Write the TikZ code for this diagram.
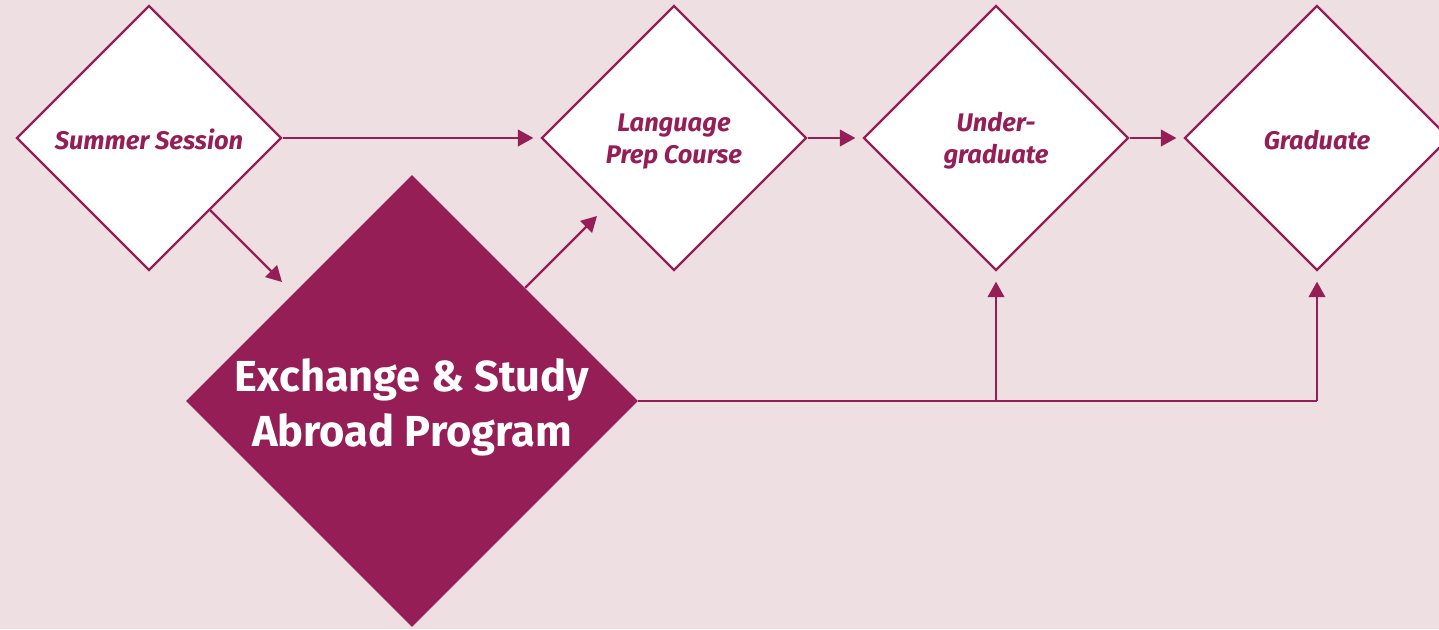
\documentclass[tikz,border=0pt]{standalone}
\usepackage{fontspec}
\setmainfont{Fira Sans}
\usetikzlibrary{shapes.geometric,arrows.meta,positioning,calc}
\definecolor{plum}{RGB}{148,30,85}
\definecolor{blush}{RGB}{238,223,227}
\newcommand{\lowered}[2]{\makebox[0pt]{\raisebox{-#1}[\height][\depth]{\begin{tabular}{@{}c@{}}#2\end{tabular}}}}

\begin{document}
\begin{tikzpicture}[x=0.02cm, y=-0.02cm,
    stage/.style={diamond, draw=plum, line width=0.045cm, fill=white, inner sep=0pt,
        minimum size=5.3cm, text=plum,
        font=\fontsize{14.5}{18}\selectfont\bfseries\itshape},
    program/.style={diamond, fill=plum, inner sep=0pt, minimum size=9.04cm,
        text=white, font=\fontsize{24.7}{31}\selectfont\bfseries},
    link/.style={draw=plum, line width=0.045cm, -{Triangle[length=0.31cm,width=0.33cm]}},
    line/.style={draw=plum, line width=0.045cm}]
    \useasboundingbox (0,0) rectangle (1439,629);
    \fill[blush] (0,0) rectangle (1439,629);
    \clip (0,0) rectangle (1439,629);
    \node[stage] (summer) at (149,138) {\lowered{0.1cm}{Summer Session}};
    \node[stage] (lang) at (674,138) {\lowered{0.06cm}{Language\\Prep Course}};
    \node[stage] (under) at (996,138) {\lowered{0.06cm}{Under-\\graduate}};
    \node[stage] (grad) at (1317,138) {\lowered{0.1cm}{Graduate}};
    \node[program] (exch) at (412,401) {\lowered{0.14cm}{Exchange \& Study\\Abroad Program}};
    \coordinate (s1) at (210,210);
    \coordinate (s2) at (282,282);
    \coordinate (l1) at (597,216);
    \coordinate (j1) at (under.south |- exch.east);
    \coordinate (j2) at (grad.south |- exch.east);
    \draw[link, shorten >=0.14cm] (summer.east) -- (lang.west);
    \draw[link, shorten >=0.14cm] (lang.east) -- (under.west);
    \draw[link, shorten >=0.14cm] (under.east) -- (grad.west);
    \draw[link] (s1) -- (s2);
    \draw[link] (exch.north east) -- (l1);
    \draw[line] (exch.east) -- (j2);
    \draw[link, shorten >=0.2cm] (j1) -- (under.south);
    \draw[link, shorten >=0.2cm] (j2) -- (grad.south);
\end{tikzpicture}
\end{document}
